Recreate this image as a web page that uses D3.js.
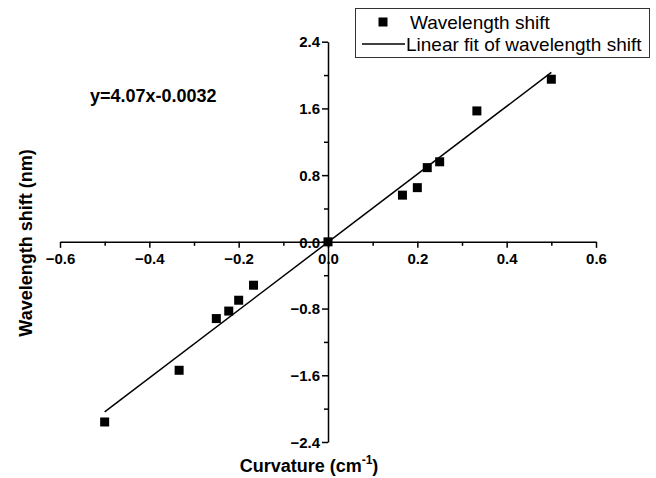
<!DOCTYPE html>
<html>
<head>
<meta charset="utf-8">
<script src="https://cdn.jsdelivr.net/npm/d3@7"></script>
<style>
  body { margin: 0; background: #fff; }
  svg { display: block; font-family: "Liberation Sans", Arial, sans-serif; }
</style>
</head>
<body>
<script>
// data
var curvature = [-0.5, -0.3333, -0.25, -0.2222, -0.2, -0.1667, 0, 0.1667, 0.2, 0.2222, 0.25, 0.3333, 0.5];
var shift = [-2.16, -1.54, -0.92, -0.83, -0.70, -0.52, 0, 0.56, 0.65, 0.89, 0.96, 1.57, 1.95];
var fitSlope = 4.07, fitIntercept = -0.0032;
var xTicks = [-0.6, -0.4, -0.2, 0.0, 0.2, 0.4, 0.6];
var yTicks = [-2.4, -1.6, -0.8, 0.0, 0.8, 1.6, 2.4];

var width = 656, height = 478;

var svg = d3.select("body").append("svg")
    .attr("width", width)
    .attr("height", height);

// set the ranges
var x = d3.scaleLinear().domain([-0.6, 0.6]).range([60, 596]);
var y = d3.scaleLinear().domain([-2.4, 2.4]).range([442, 41.7]);

var points = curvature.map(function(c, i) { return {x: c, y: shift[i]}; });

// x axis through y = 0
var xAxis = svg.append("g")
    .attr("transform", "translate(0," + y(0) + ")")
    .call(d3.axisBottom(x).tickValues(xTicks).tickFormat(d3.format(".1f")).tickSize(6).tickSizeOuter(0));
svg.append("g")
    .attr("transform", "translate(0," + y(0) + ")")
    .call(d3.axisBottom(x).tickValues(d3.range(-0.5, 0.6, 0.2)).tickFormat("").tickSize(4).tickSizeOuter(0))
    .select(".domain").remove();

// y axis through x = 0
var yAxis = svg.append("g")
    .attr("transform", "translate(" + x(0) + ",0)")
    .call(d3.axisLeft(y).tickValues(yTicks).tickFormat(d3.format(".1f")).tickSize(6).tickSizeOuter(0));
svg.append("g")
    .attr("transform", "translate(" + x(0) + ",0)")
    .call(d3.axisLeft(y).tickValues([-2.0, -1.2, -0.4, 0.4, 1.2, 2.0]).tickFormat("").tickSize(4).tickSizeOuter(0))
    .select(".domain").remove();

svg.selectAll(".domain, .tick line").attr("stroke", "#000").attr("stroke-width", 1.5);
svg.selectAll(".tick text")
    .attr("fill", "#000")
    .style("font-size", "15px")
    .style("font-weight", "bold")
    .style("font-family", "Liberation Sans, Arial, sans-serif");
xAxis.selectAll(".tick text").attr("dy", "0.85em");
yAxis.selectAll(".tick text").attr("dy", "0.35em").attr("x", -8);

// fit line
var fit = d3.line()
    .x(function(d) { return x(d); })
    .y(function(d) { return y(fitSlope * d + fitIntercept); });
svg.append("path")
    .datum([-0.5, 0.5])
    .attr("d", fit)
    .attr("fill", "none")
    .attr("stroke", "#000")
    .attr("stroke-width", 1.5);

// data points
var s = 9;
svg.selectAll(".pt")
    .data(points)
  .enter().append("rect")
    .attr("class", "pt")
    .attr("x", function(d) { return x(d.x) - s / 2; })
    .attr("y", function(d) { return y(d.y) - s / 2; })
    .attr("width", s)
    .attr("height", s)
    .attr("fill", "#000");

// equation
svg.append("text")
    .attr("x", 90)
    .attr("y", 102)
    .style("font-size", "18px")
    .style("font-weight", "bold")
    .text("y=4.07x-0.0032");

// axis titles
svg.append("text")
    .attr("x", 309)
    .attr("y", 472)
    .attr("text-anchor", "middle")
    .style("font-size", "18px")
    .style("font-weight", "bold")
    .html('Curvature (cm<tspan dy="-8" style="font-size:12px">-1</tspan><tspan dy="8">)</tspan>');

svg.append("text")
    .attr("transform", "translate(32,243) rotate(-90)")
    .attr("text-anchor", "middle")
    .style("font-size", "18px")
    .style("font-weight", "bold")
    .text("Wavelength shift (nm)");

// legend
var legend = svg.append("g");
legend.append("rect")
    .attr("x", 355.5).attr("y", 8.5)
    .attr("width", 294).attr("height", 49)
    .attr("fill", "#fff")
    .attr("stroke", "#333")
    .attr("stroke-width", 1);
legend.append("rect")
    .attr("x", 383 - s / 2).attr("y", 22 - s / 2)
    .attr("width", s).attr("height", s)
    .attr("fill", "#000");
legend.append("line")
    .attr("x1", 362).attr("x2", 405)
    .attr("y1", 44).attr("y2", 44)
    .attr("stroke", "#000").attr("stroke-width", 1.5);
legend.append("text")
    .attr("x", 410).attr("y", 29)
    .style("font-size", "19px")
    .text("Wavelength shift");
legend.append("text")
    .attr("x", 406).attr("y", 51)
    .style("font-size", "19px")
    .text("Linear fit of wavelength shift");
</script>
</body>
</html>
